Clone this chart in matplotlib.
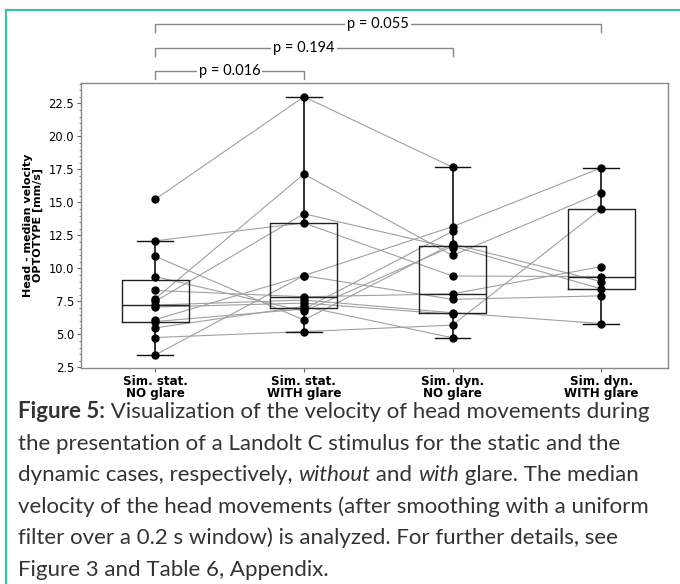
import numpy as np
import matplotlib
matplotlib.use("Agg")
import matplotlib.pyplot as plt
import matplotlib.transforms as mtransforms
from matplotlib.lines import Line2D
from matplotlib.ticker import MultipleLocator, FormatStrFormatter

nan = np.nan

labels = ["Sim. stat.\nNO glare", "Sim. stat.\nWITH glare",
          "Sim. dyn.\nNO glare", "Sim. dyn.\nWITH glare"]

# one entry per subject, same order in every list
stat_no = [15.24, 12.09, 10.91, 9.38, 8.33, 7.70, 7.50, 7.22, 7.07, 6.12, 5.97, 5.49, 4.76, 3.44]
stat_with = [23.01, 13.44, 6.09, 6.75, 7.85, 17.15, 14.14, 7.60, 7.37, 9.45, 6.92, 7.12, 5.21, 9.45]
dyn_no = [17.67, 9.42, 11.86, 11.68, 8.07, 10.98, 11.53, 6.64, 6.52, 13.16, 12.81, 4.74, 5.70, 7.65]
dyn_with = [nan, 9.38, 9.00, 8.45, 10.13, 15.74, nan, 5.82, nan, 17.62, nan, nan, 14.52, 7.92]

# box statistics as drawn in the figure
box_med = [7.20, 7.80, 8.07, 9.38]
box_q1 = [5.97, 7.02, 6.60, 8.45]
box_q3 = [9.15, 13.44, 11.68, 14.52]
whis_lo = [3.44, 5.21, 4.74, 5.82]
whis_hi = [12.09, 23.01, 17.67, 17.62]

p_pairs = [(0, 1), (0, 2), (0, 3)]
p_texts = ["p = 0.016", "p = 0.194", "p = 0.055"]

sans = ["DejaVu Sans"]
cap_font = ["Lato", "DejaVu Sans"]

fig = plt.figure(figsize=(6.8, 5.84), dpi=100)
ax = fig.add_axes([81 / 680, 216 / 584, 587 / 680, 285 / 584])

data = np.array([stat_no, stat_with, dyn_no, dyn_with])
pos = np.arange(4)

# subject lines
for subj in data.T:
    ax.plot(pos, subj, color="#a0a0a0", lw=0.8, zorder=1)

stats = []
for i in range(4):
    stats.append(dict(med=box_med[i], q1=box_q1[i], q3=box_q3[i],
                      whislo=whis_lo[i], whishi=whis_hi[i], fliers=[]))
ax.bxp(stats, positions=pos, widths=0.45, showfliers=False,
       boxprops=dict(color="#222222", lw=1.0),
       medianprops=dict(color="#222222", lw=1.0),
       whiskerprops=dict(color="#111111", lw=1.2),
       capprops=dict(color="#111111", lw=1.0),
       capwidths=0.24, zorder=2)

for i in range(4):
    ax.plot(np.full(data.shape[1], pos[i]), data[i], "o", color="black",
            ms=5, zorder=3)

ax.set_xlim(-0.5, 3.45)
ax.set_ylim(2.45, 24.05)
ax.yaxis.set_major_locator(MultipleLocator(2.5))
ax.yaxis.set_minor_locator(MultipleLocator(0.5))
ax.yaxis.set_major_formatter(FormatStrFormatter("%.1f"))
ax.set_xticks(pos)
ax.set_xticklabels(labels, fontweight="bold", fontsize=8.6, family=sans,
                   linespacing=0.95)
for lab in ax.get_yticklabels():
    lab.set_family(sans)
    lab.set_fontsize(8.3)
ax.tick_params(axis="both", which="major", length=3, width=0.8,
               color="#666666", pad=2)
ax.tick_params(axis="y", which="minor", length=1.8, width=0.6, color="#666666")
for sp in ax.spines.values():
    sp.set_color("#888888")
    sp.set_linewidth(1.0)
ax.set_ylabel("Head - median velocity\nOPTOTYPE [mm/s]", fontweight="bold",
              fontsize=8.0, family=sans, linespacing=0.9, labelpad=4)

# significance brackets above the axes
trans = mtransforms.blended_transform_factory(ax.transData, ax.transAxes)
levels = [1.042, 1.123, 1.207]
drop = 0.028
for (a, b), txt, lv in zip(p_pairs, p_texts, levels):
    ax.plot([a, a, b, b], [lv - drop, lv, lv, lv - drop], color="#888888",
            lw=1.0, transform=trans, clip_on=False)
    ax.text((a + b) / 2, lv, txt, transform=trans, ha="center", va="center",
            fontsize=10.5, family=cap_font,
            bbox=dict(facecolor="white", edgecolor="none", pad=1.5))

# teal frame
teal = "#3bbfa5"
fig.add_artist(Line2D([5.5 / 680, 5.5 / 680], [0, 1 - 9.5 / 584], color=teal,
                      lw=1.6, transform=fig.transFigure))
fig.add_artist(Line2D([5.5 / 680, 1], [1 - 9.5 / 584, 1 - 9.5 / 584],
                      color=teal, lw=1.6, transform=fig.transFigure))

# caption with mixed styles
caption = [
    [("Figure 5:", "bold", "normal"),
     (" Visualization of the velocity of head movements during", "normal", "normal")],
    [("the presentation of a Landolt C stimulus for the static and the", "normal", "normal")],
    [("dynamic cases, respectively, ", "normal", "normal"), ("without", "normal", "italic"),
     (" and ", "normal", "normal"), ("with", "normal", "italic"),
     (" glare. The median", "normal", "normal")],
    [("velocity of the head movements (after smoothing with a uniform", "normal", "normal")],
    [("filter over a 0.2 s window) is analyzed. For further details, see", "normal", "normal")],
    [("Figure 3 and Table 6, Appendix.", "normal", "normal")],
]
cap_size = 16
y0 = 418
for k, line in enumerate(caption):
    y = 1 - (y0 + 31.6 * k) / 584
    t = None
    for s, w, st in line:
        if t is None:
            t = fig.text(18 / 680, y, s, fontweight=w, fontstyle=st,
                         fontsize=cap_size, family=cap_font, color="#333333",
                         va="baseline", ha="left")
        else:
            t = ax.annotate(s, xy=(1, 0), xycoords=t, va="bottom", ha="left",
                            fontweight=w, fontstyle=st, fontsize=cap_size,
                            family=cap_font, color="#333333",
                            annotation_clip=False)

fig.savefig("out.png", dpi=100)
